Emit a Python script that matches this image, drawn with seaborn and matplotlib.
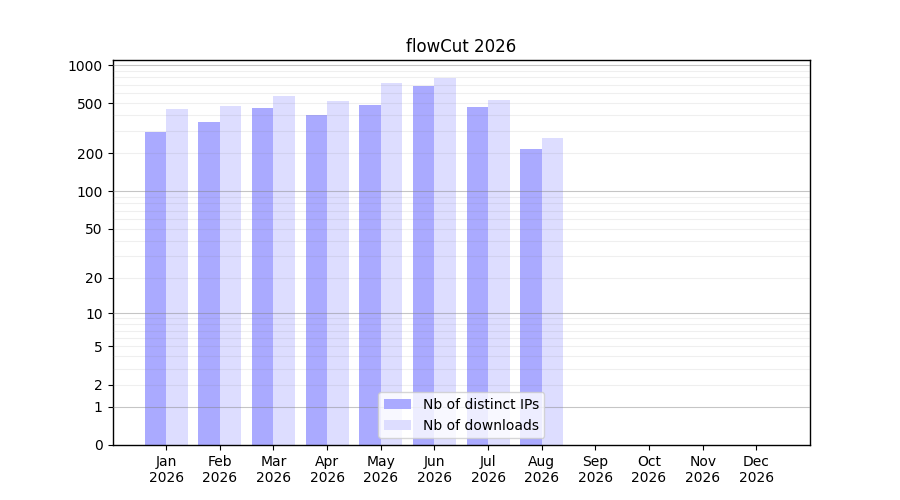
import numpy as np
import pandas as pd
import matplotlib
matplotlib.use("Agg")
import matplotlib.pyplot as plt
import seaborn as sns

months = ["Jan", "Feb", "Mar", "Apr", "May", "Jun", "Jul", "Aug", "Sep", "Oct", "Nov", "Dec"]
year = "2026"
distinct_ips = [296, 355, 458, 403, 484, 684, 467, 217, 0, 0, 0, 0]
downloads = [450, 475, 570, 520, 722, 795, 530, 265, 0, 0, 0, 0]
series_names = ["Nb of distinct IPs", "Nb of downloads"]
series_colors = ["#aaaaff", "#ddddff"]
ytick_values = [0, 1, 2, 5, 10, 20, 50, 100, 200, 500, 1000]

df = pd.DataFrame({
    "month": months * 2,
    "value": distinct_ips + downloads,
    "series": [series_names[0]] * 12 + [series_names[1]] * 12,
})

plt.rcParams["font.family"] = ["DejaVu Sans"]

fig = plt.figure(figsize=(9, 5), dpi=100)
ax = fig.add_subplot(111)

sns.barplot(data=df, x="month", y="value", hue="series", order=months,
            hue_order=series_names, palette=series_colors, saturation=1,
            linewidth=0, width=0.8, ax=ax, zorder=2)

fwd = lambda x: np.log10(1 + np.asarray(x, dtype=float))
inv = lambda y: 10 ** np.asarray(y, dtype=float) - 1
ax.set_yscale("function", functions=(fwd, inv))
ax.set_ylim(0, 1096)
ax.set_xlim(-1, 12)

ax.set_yticks(ytick_values)
ax.set_yticklabels([str(v) for v in ytick_values])
ax.yaxis.set_minor_locator(matplotlib.ticker.NullLocator())
ax.set_xticks(range(len(months)))
ax.set_xticklabels([f"{m}\n{year}" for m in months])

# grid lines: decades darker, in-between lighter
for dec in [1, 10, 100]:
    for m in range(2, 10):
        ax.axhline(dec * m, color="gray", alpha=0.12, lw=0.8, zorder=3)
for dec in [1, 10, 100, 1000]:
    ax.axhline(dec, color="gray", alpha=0.45, lw=0.8, zorder=3)

for s in ax.spines.values():
    s.set_visible(True)
    s.set_color("black")
    s.set_linewidth(1.0)

ax.set_xlabel("")
ax.set_ylabel("")
ax.set_title("flowCut 2026", fontsize=12)

handles, labels = ax.get_legend_handles_labels()
ax.legend(handles, labels, loc="lower center", title=None, frameon=True)

fig.subplots_adjust(left=0.125, right=0.9, top=0.88, bottom=0.11)
fig.savefig("out.png", dpi=100)
